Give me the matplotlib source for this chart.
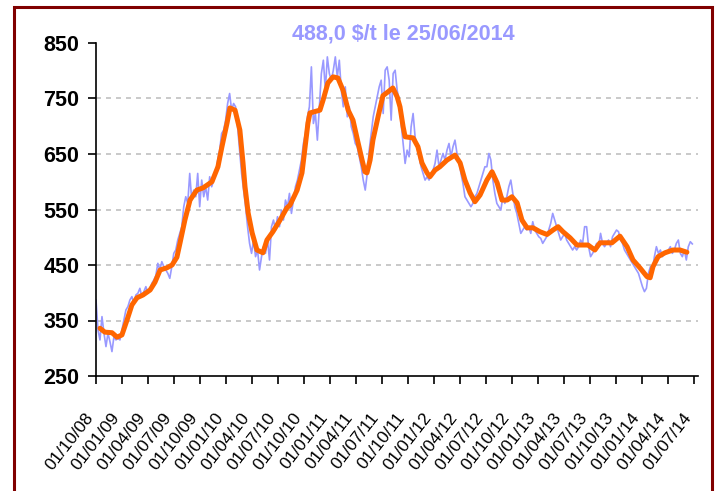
import matplotlib
matplotlib.use('Agg')
import matplotlib.pyplot as plt
import matplotlib.dates as mdates
import pandas as pd
from matplotlib.patches import Rectangle
from matplotlib.transforms import ScaledTranslation

plt.rcParams['font.family'] = ['Liberation Sans', 'DejaVu Sans']
plt.rcParams['lines.scale_dashes'] = False

# ---------------- data ----------------
title_text = '488,0 $/t le 25/06/2014'

# daily price sampled weekly (Wednesdays) from 01/10/2008 to 25/06/2014
blue_start = '2008-10-01'
blue_end = '2014-06-25'
blue_values = [
    387, 333, 315, 357, 327, 303, 327, 312, 294, 321, 315,
    318, 315, 333, 351, 369,
    375, 387, 393, 381, 396,
    399, 408, 393, 402, 411,
    399, 405, 417, 423, 431,
    453, 441, 456, 447, 441,
    435, 426, 447, 471, 477,
    495, 507, 519, 555, 573,
    561, 615, 567, 585, 573,
    615, 555, 603, 573, 591,
    567, 609, 591, 603, 615,
    639, 657, 687, 693, 711,
    741, 759, 729, 741, 735,
    699, 657, 615, 585, 555,
    519, 489, 471, 495, 465,
    477, 441, 465, 483, 471,
    495, 459, 519, 531, 513,
    537, 519, 549, 531, 567,
    555, 579, 543, 567, 591,
    603, 621, 639, 669, 687,
    717, 735, 807, 705, 723,
    675, 735, 795, 819, 765,
    825, 795, 783, 801, 825,
    789, 819, 765, 735, 771,
    717, 735, 699, 687, 669,
    663, 645, 627, 603, 585,
    615, 657, 687, 717, 735,
    753, 771, 783, 723, 801,
    807,
    783, 711, 795, 801,
    765, 747, 705, 669, 633,
    657, 645, 699, 723, 681,
    663, 645, 627, 615, 603,
    609, 603, 615, 621, 633,
    657, 627, 639, 651, 639,
    657, 669, 645, 663, 675,
    651, 639, 615, 597, 573,
    567, 561, 555, 561, 573,
    579, 591, 603, 615, 627,
    627, 651, 639, 603, 579,
    561, 555, 549, 573, 561,
    573, 591, 603, 579, 555,
    543, 525, 507, 513, 519,
    513, 519, 507, 528, 513,
    507, 501, 498, 489, 495,
    501, 513, 525, 543, 531,
    519, 507, 495, 501, 507,
    495, 489, 483, 477, 483,
    477, 483, 495, 489, 519,
    519, 483, 465, 471, 477,
    489, 483, 507, 489, 483,
    489, 495, 483, 501, 507,
    513, 510, 495, 489, 477,
    471, 465, 459, 453, 447,
    441, 435, 423, 411, 402,
    408, 435, 447, 441, 465,
    483, 471, 477, 465, 471,
    471, 477, 483, 471, 477,
    489, 495, 471, 465, 477,
    459, 483, 492, 488,
]

# moving average
orange_dates = [
    '2008-10-15', '2008-11-01', '2008-11-26', '2008-12-14', '2008-12-31', '2009-01-18',
    '2009-02-04', '2009-02-22', '2009-03-15', '2009-04-09', '2009-04-26', '2009-05-14',
    '2009-06-07', '2009-06-25', '2009-07-12', '2009-07-23', '2009-08-09', '2009-08-27',
    '2009-09-20', '2009-10-12', '2009-11-12', '2009-12-03', '2009-12-17', '2010-01-04',
    '2010-01-14', '2010-02-01', '2010-02-18', '2010-03-01', '2010-03-08', '2010-03-19',
    '2010-04-02', '2010-04-19', '2010-05-10', '2010-05-24', '2010-06-14', '2010-07-09',
    '2010-08-02', '2010-08-13', '2010-09-07', '2010-09-24', '2010-10-05', '2010-10-15',
    '2010-10-22', '2010-11-26', '2010-12-07', '2010-12-24', '2011-01-11', '2011-01-28',
    '2011-02-15', '2011-03-05', '2011-03-22', '2011-04-09', '2011-04-23', '2011-05-03',
    '2011-05-10', '2011-05-21', '2011-05-31', '2011-06-18', '2011-07-05', '2011-07-23',
    '2011-08-09', '2011-08-24', '2011-09-03', '2011-09-14', '2011-09-21', '2011-10-19',
    '2011-11-05', '2011-11-19', '2011-12-07', '2011-12-17', '2012-01-04', '2012-01-21',
    '2012-02-15', '2012-03-14', '2012-04-01', '2012-04-18', '2012-05-06', '2012-05-23',
    '2012-06-10', '2012-07-04', '2012-07-22', '2012-08-09', '2012-08-26', '2012-09-13',
    '2012-09-30', '2012-10-18', '2012-11-04', '2012-11-22', '2012-12-13', '2013-01-06',
    '2013-01-31', '2013-02-21', '2013-03-11', '2013-03-28', '2013-04-22', '2013-05-16',
    '2013-06-06', '2013-06-24', '2013-07-18', '2013-08-05', '2013-09-16', '2013-10-14',
    '2013-11-08', '2013-11-29', '2013-12-23', '2014-01-17', '2014-01-28', '2014-02-07',
    '2014-02-25', '2014-03-21', '2014-04-18', '2014-05-13', '2014-06-06',
]
orange_values = [
    336, 329, 328, 320, 324, 351,
    378, 391, 396, 405, 419, 441,
    445, 450, 464, 490, 531, 567,
    585, 589, 600, 627, 663, 706,
    733, 729, 693, 634, 591, 544,
    508, 477, 472, 495, 510, 531,
    553, 558, 585, 616, 663, 706,
    724, 729, 747, 778, 789, 787,
    765, 729, 711, 670, 639, 618,
    616, 639, 675, 717, 755, 762,
    769, 753, 735, 699, 681, 679,
    663, 634, 616, 609, 621, 627,
    639, 648, 634, 603, 580, 564,
    576, 603, 618, 598, 567, 567,
    573, 562, 531, 517, 517, 510,
    505, 513, 519, 510, 499, 486,
    486, 486, 477, 490, 490, 502,
    483, 459, 445, 429, 427, 447,
    465, 472, 477, 477, 473,
]

y_ticks = [250, 350, 450, 550, 650, 750, 850]
grid_levels = [350, 450, 550, 650, 750]
x_start = '2008-10-01'
x_end = '2014-07-15'

# ---------------- figure ----------------
W, H = 719, 491
fig = plt.figure(figsize=(W / 100, H / 100), dpi=100)
fig.patch.set_facecolor('white')

ax = fig.add_axes([96 / W, 1 - 376 / H, (698 - 96) / W, (376 - 43) / H])

for lvl in grid_levels:
    ax.axhline(lvl, color='#BBBBBB', lw=1.1, linestyle=(0, (3.6, 3.6)), zorder=1)

blue_dates = pd.date_range(blue_start, blue_end, freq='7D')
ax.plot(blue_dates, blue_values, color='#9999FF', lw=1.2, zorder=2)
ax.plot(pd.to_datetime(orange_dates), orange_values, color='#FF6600', lw=3.6,
        solid_joinstyle='round', solid_capstyle='round', zorder=3)

ax.set_ylim(250, 850)
ax.set_yticks(y_ticks)
ax.set_xlim(pd.Timestamp(x_start), pd.Timestamp(x_end))
ax.xaxis.set_major_locator(mdates.MonthLocator(bymonth=[1, 4, 7, 10], bymonthday=1))
ax.xaxis.set_major_formatter(mdates.DateFormatter('%d/%m/%y'))

for s in ['top', 'right']:
    ax.spines[s].set_visible(False)
for s in ['left', 'bottom']:
    ax.spines[s].set_color('black')
    ax.spines[s].set_linewidth(1.2)

ax.tick_params(axis='y', direction='out', length=5.5, width=1.2, pad=6.5,
               labelsize=15.5, colors='black')
ax.tick_params(axis='x', direction='out', length=6, width=1.2, pad=22,
               labelsize=12.5, colors='black')
for lab in ax.get_yticklabels():
    lab.set_fontweight('bold')
offset = ScaledTranslation(-4 / 72, 0, fig.dpi_scale_trans)
for lab in ax.get_xticklabels():
    lab.set_rotation(52)
    lab.set_ha('right')
    lab.set_va('center')
    lab.set_rotation_mode('anchor')
    lab.set_transform(lab.get_transform() + offset)

fig.text(403 / W, 1 - 34 / H, title_text, ha='center', va='center',
         fontsize=15.5, fontweight='bold', color='#9999FF')

border = Rectangle((13.5 / W, -0.05), (712 - 13.5) / W, 1.05 - 7.5 / H,
                   transform=fig.transFigure, fill=False, ec='#800000', lw=2.2,
                   clip_on=False)
fig.patches.append(border)

fig.savefig('out.png', dpi=100)
